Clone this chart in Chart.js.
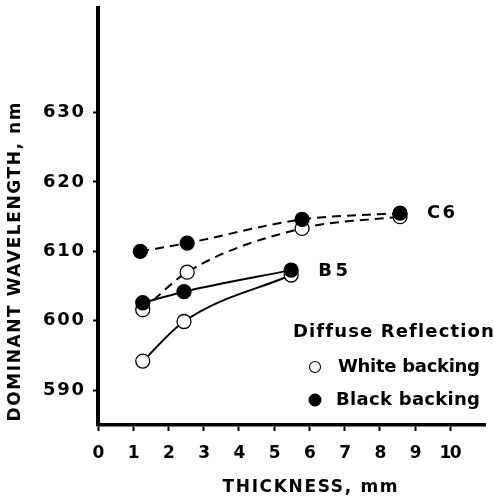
<!DOCTYPE html>
<html>
<head>
<meta charset="utf-8">
<script src="https://cdn.jsdelivr.net/npm/chart.js@4.4.1/dist/chart.umd.min.js"></script>
<style>
html, body { margin: 0; padding: 0; background: #fff; }
#wrap { width: 494px; height: 499px; }
</style>
</head>
<body>
<div id="wrap"><canvas id="chart" width="494" height="499"></canvas></div>
<script>
// tick labels
const xTicks = [0, 1, 2, 3, 4, 5, 6, 7, 8, 9, 10];
const yTicks = [590, 600, 610, 620, 630];

// thickness (mm) and dominant wavelength (nm) per curve
const c6WhiteX = [1.27, 2.53, 5.79, 8.57];
const c6WhiteY = [601.6, 607.0, 613.3, 615.0];
const c6BlackX = [1.2, 2.53, 5.79, 8.57];
const c6BlackY = [610.0, 611.2, 614.6, 615.5];
const b5WhiteX = [1.27, 2.44, 5.48];
const b5WhiteY = [594.2, 599.9, 606.6];
const b5BlackX = [1.27, 2.44, 5.48];
const b5BlackY = [602.6, 604.2, 607.3];

const curveNames = ["C6", "B5"];
const legendTitle = "Diffuse Reflection";
const legendItems = ["White backing", "Black backing"];
const xTitle = "THICKNESS, mm";
const yTitle = "DOMINANT WAVELENGTH, nm";

function toPoints(xs, ys) {
    return xs.map((x, i) => ({ x: x, y: ys[i] }));
}

function makeSet(xs, ys, filled, dashed) {
    return {
        data: toPoints(xs, ys),
        borderColor: "#000",
        borderWidth: 2,
        borderDash: dashed ? [9, 6] : [],
        backgroundColor: filled ? "#000" : "#fff",
        pointBackgroundColor: filled ? "#000" : "#fff",
        pointBorderColor: "#000",
        pointBorderWidth: 1.3,
        pointRadius: 7,
        cubicInterpolationMode: "monotone",
        fill: false,
        order: filled ? 0 : 1
    };
}

const FONT = '"DejaVu Sans"';

// draw text stretched to a given width with letter spacing
function spacedText(ctx, text, x, y, size, width, align) {
    ctx.save();
    ctx.font = "bold " + size + "px " + FONT;
    ctx.letterSpacing = "0px";
    let w = ctx.measureText(text).width;
    let n = text.length;
    let sp = n > 1 ? (width - w) / (n - 1) : 0;
    ctx.letterSpacing = sp + "px";
    ctx.fillStyle = "#000";
    ctx.textBaseline = "middle";
    ctx.textAlign = "left";
    let left = x;
    if (align === "center") left = x - width / 2;
    if (align === "right") left = x - width;
    ctx.fillText(text, left, y);
    ctx.restore();
}

const textPlugin = {
    id: "texts",
    afterDraw(chart) {
        let ctx = chart.ctx;
        let xs = chart.scales.x;
        let ys = chart.scales.y;

        yTicks.forEach(v => {
            spacedText(ctx, String(v), 84, ys.getPixelForValue(v), 18, 41, "right");
        });
        xTicks.forEach(v => {
            let s = String(v);
            spacedText(ctx, s, xs.getPixelForValue(v), 454, 17, s.length > 1 ? 22 : 11, "center");
        });

        spacedText(ctx, xTitle, 310, 488, 17, 175, "center");

        ctx.save();
        ctx.translate(16, 262);
        ctx.rotate(-Math.PI / 2);
        spacedText(ctx, yTitle, 0, 0, 17, 319, "center");
        ctx.restore();

        // curve names next to last points
        spacedText(ctx, curveNames[0], xs.getPixelForValue(c6BlackX[c6BlackX.length - 1]) + 27, ys.getPixelForValue(c6BlackY[c6BlackY.length - 1]), 18, 28, "left");
        spacedText(ctx, curveNames[1], xs.getPixelForValue(b5BlackX[b5BlackX.length - 1]) + 27, ys.getPixelForValue(b5BlackY[b5BlackY.length - 1]) + 1, 18, 30, "left");

        // legend
        spacedText(ctx, legendTitle, 293, 332, 18, 199, "left");
        spacedText(ctx, legendItems[0], 338, 367, 18, 142, "left");
        spacedText(ctx, legendItems[1], 336, 400, 18, 144, "left");

        ctx.save();
        ctx.lineWidth = 1.1;
        ctx.strokeStyle = "#000";
        ctx.fillStyle = "#fff";
        ctx.beginPath();
        ctx.arc(315, 367, 5.5, 0, Math.PI * 2);
        ctx.fill();
        ctx.stroke();
        ctx.fillStyle = "#000";
        ctx.beginPath();
        ctx.arc(315, 400, 6.5, 0, Math.PI * 2);
        ctx.fill();
        ctx.restore();
    }
};

let ctx = document.getElementById("chart").getContext("2d");
new Chart(ctx, {
    type: "line",
    data: {
        datasets: [
            makeSet(c6WhiteX, c6WhiteY, false, true),
            makeSet(c6BlackX, c6BlackY, true, true),
            makeSet(b5WhiteX, b5WhiteY, false, false),
            makeSet(b5BlackX, b5BlackY, true, false)
        ]
    },
    options: {
        responsive: false,
        animation: false,
        layout: { padding: { top: 8, right: 6, left: 0, bottom: 0 } },
        plugins: {
            legend: { display: false },
            tooltip: { enabled: false }
        },
        scales: {
            x: {
                type: "linear",
                min: 0,
                max: 11,
                afterBuildTicks: s => { s.ticks = xTicks.map(v => ({ value: v })); },
                afterFit: s => { s.height = 74; },
                ticks: { display: false },
                grid: { drawOnChartArea: false, drawTicks: true, tickLength: 6, tickWidth: 2, tickColor: "#000" },
                border: { display: true, color: "#000", width: 3.5 }
            },
            y: {
                type: "linear",
                min: 585,
                max: 645,
                afterBuildTicks: s => { s.ticks = yTicks.map(v => ({ value: v })); },
                afterFit: s => { s.width = 98; },
                ticks: { display: false },
                grid: { drawOnChartArea: false, drawTicks: true, tickLength: 5, tickWidth: 2, tickColor: "#000" },
                border: { display: true, color: "#000", width: 4 }
            }
        }
    },
    plugins: [textPlugin]
});
</script>
</body>
</html>
